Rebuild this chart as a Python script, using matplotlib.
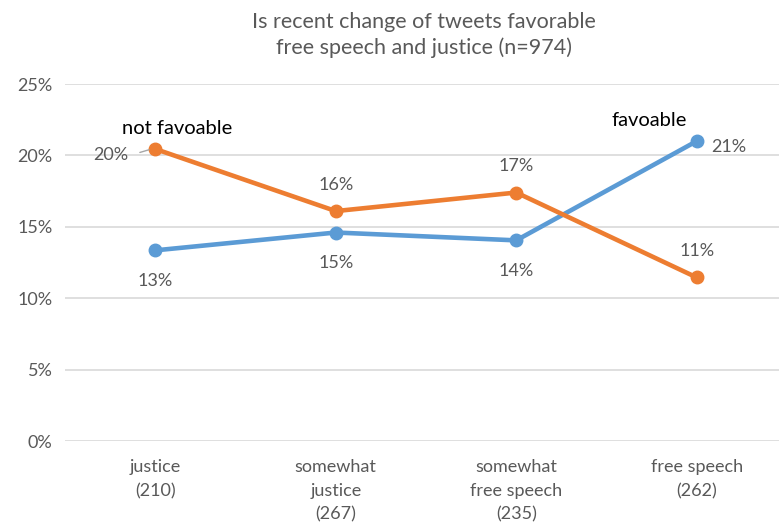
import matplotlib.pyplot as plt
from matplotlib.ticker import PercentFormatter

categories = ['justice\n(210)', 'somewhat\njustice\n(267)',
              'somewhat\nfree speech\n(235)', 'free speech\n(262)']
favoable = [13.35, 14.6, 14.05, 21.0]
not_favoable = [20.45, 16.1, 17.4, 11.45]
fav_labels = ['13%', '15%', '14%', '21%']
notfav_labels = ['20%', '16%', '17%', '11%']

plt.rcParams['font.family'] = ['Lato', 'DejaVu Sans']
gray = '#595959'
blue = '#5B9BD5'
orange = '#ED7D31'

fig = plt.figure(figsize=(7.79, 5.30), dpi=100)
ax = fig.add_axes([65 / 779, 1 - 441 / 530, (787 - 65) / 779, (441 - 84) / 530])

x = list(range(len(categories)))
ax.plot(x, favoable, color=blue, lw=3.3, marker='o', ms=9, solid_capstyle='round', zorder=3)
ax.plot(x, not_favoable, color=orange, lw=3.3, marker='o', ms=9, solid_capstyle='round', zorder=3)

ax.set_xlim(-0.5, 3.5)
ax.set_ylim(0, 25)
ax.set_yticks(range(0, 26, 5))
ax.yaxis.set_major_formatter(PercentFormatter(decimals=0))
ax.grid(axis='y', color='#D9D9D9', lw=1.2)
ax.set_axisbelow(True)
for s in ax.spines.values():
    s.set_visible(False)
ax.tick_params(length=0, labelcolor=gray, labelsize=13)
ax.tick_params(axis='y', pad=9)
ax.tick_params(axis='x', pad=13)
ax.set_xticks(x)
ax.set_xticklabels(categories, linespacing=1.6)

# data labels (offsets in points)
fav_off = [(0, -22), (0, -22), (0, -22), (23, -4)]
notfav_off = [(-32, -4), (0, 19), (0, 19), (0, 19)]
for i in x:
    ax.annotate(fav_labels[i], (i, favoable[i]), xytext=fav_off[i], textcoords='offset points',
                ha='center', va='center', color=gray, fontsize=13)
    ax.annotate(notfav_labels[i], (i, not_favoable[i]), xytext=notfav_off[i], textcoords='offset points',
                ha='center', va='center', color=gray, fontsize=13)
# leader line for 20%
ax.annotate('', (-0.02, not_favoable[0]), xytext=(-0.1, not_favoable[0] - 0.3),
            arrowprops=dict(arrowstyle='-', color='#A6A6A6', lw=1))

ax.annotate('not favoable', (0, not_favoable[0]), xytext=(16, 15), textcoords='offset points',
            ha='center', va='center', color='black', fontsize=14.5)
ax.annotate('favoable', (3, favoable[3]), xytext=(-34, 15), textcoords='offset points',
            ha='center', va='center', color='black', fontsize=14.5)

fig.text(424 / 779, 1 - 35 / 530, 'Is recent change of tweets favorable\nfree speech and justice (n=974)',
         ha='center', va='center', color=gray, fontsize=15.5, linespacing=1.3)

fig.savefig('out.png', dpi=100)
